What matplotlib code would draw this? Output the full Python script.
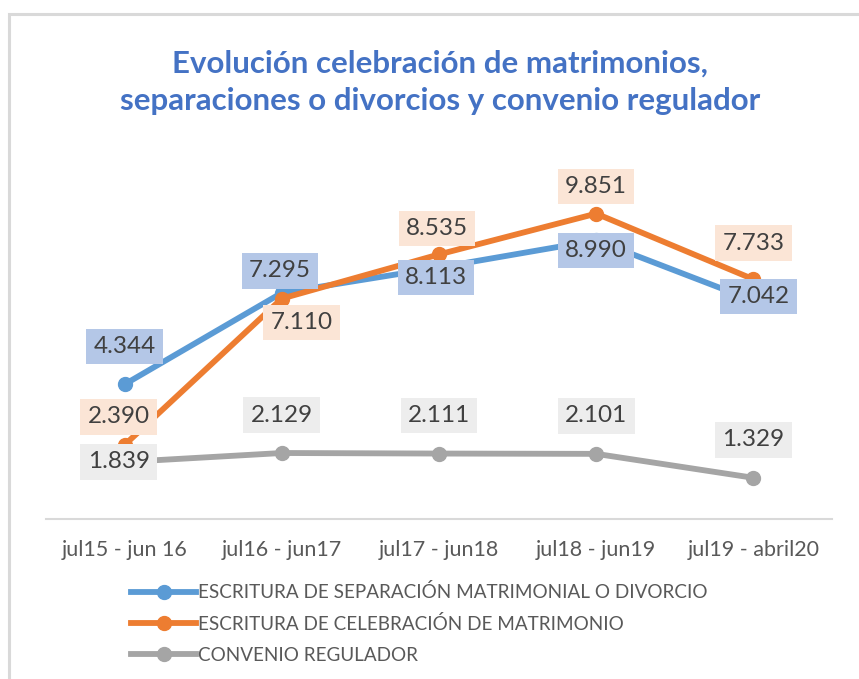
import matplotlib
matplotlib.use("Agg")
import matplotlib.pyplot as plt
from matplotlib.lines import Line2D
from matplotlib.patches import Rectangle

plt.rcParams['font.family'] = ['Lato', 'DejaVu Sans']

periodos = ["jul15 - jun 16", "jul16 - jun17", "jul17 - jun18", "jul18 - jun19", "jul19 - abril20"]
separacion = [4.344, 7.295, 8.113, 8.990, 7.042]
celebracion = [2.390, 7.110, 8.535, 9.851, 7.733]
convenio = [1.839, 2.129, 2.111, 2.101, 1.329]

nombres = ["ESCRITURA DE SEPARACIÓN MATRIMONIAL O DIVORCIO",
           "ESCRITURA DE CELEBRACIÓN DE MATRIMONIO",
           "CONVENIO REGULADOR"]
colores = ["#5B9BD5", "#ED7D31", "#A5A5A5"]
fondos = ["#B4C7E7", "#FBE5D6", "#EDEDED"]

# desplazamiento de cada etiqueta respecto a su punto (pixeles)
desp_sep = [(0, 38), (-2, 22), (-3, -10), (0, -10), (5, 4)]
desp_cel = [(-6, 28), (20, -24), (-2, 26), (0, 27), (0, 36)]
desp_con = [(-6, 0), (0, 38), (0, 38), (0, 38), (0, 38)]

fig = plt.figure(figsize=(8.59, 6.79), dpi=100)
fig.patches.append(Rectangle((9 / 859, -0.1), 1.2, 1 - 14 / 679 + 0.1,
                             transform=fig.transFigure, fill=False,
                             edgecolor="#D9D9D9", linewidth=2.2))

ax = fig.add_axes([46 / 859, 160 / 679, (832 - 46) / 859, 372 / 679])
x = list(range(len(periodos)))

series = [separacion, celebracion, convenio]
desps = [desp_sep, desp_cel, desp_con]
for i in [2, 0, 1]:
    ax.plot(x, series[i], color=colores[i], linewidth=4.2, marker="o",
            markersize=10, solid_capstyle="round", zorder=2 + i)

for i in range(3):
    for xi, v, d in zip(x, series[i], desps[i]):
        ax.annotate(f"{v:.3f}", (xi, v), xytext=d, textcoords="offset pixels",
                    ha="center", va="center", fontsize=17.5, color="#404040",
                    bbox=dict(boxstyle="square,pad=0.3", fc=fondos[i], ec="none"),
                    zorder=10)

ax.set_xlim(-0.5, len(periodos) - 0.5)
ax.set_ylim(0, 12)
ax.set_xticks(x)
ax.set_xticklabels(periodos, fontsize=15.5, color="#595959")
ax.tick_params(axis="x", length=0, pad=15)
ax.set_yticks([])
for s in ["top", "right", "left"]:
    ax.spines[s].set_visible(False)
ax.spines["bottom"].set_color("#D9D9D9")
ax.spines["bottom"].set_linewidth(1.5)

fig.text(440 / 859, 1 - 82 / 679,
         "Evolución celebración de matrimonios,\nseparaciones o divorcios y convenio regulador",
         ha="center", va="center", fontsize=22.5, fontweight="bold", color="#4472C4",
         linespacing=1.42)

handles = [Line2D([0], [0], color=c, linewidth=4.2, marker="o", markersize=10)
           for c in colores]
fig.legend(handles, nombres, loc="upper left", bbox_to_anchor=(122 / 859, 1 - 574 / 679),
           frameon=False, fontsize=13.6, labelcolor="#595959", handlelength=3.4,
           handletextpad=0.15, labelspacing=0.72, borderpad=0)

fig.savefig("out.png", dpi=100)
